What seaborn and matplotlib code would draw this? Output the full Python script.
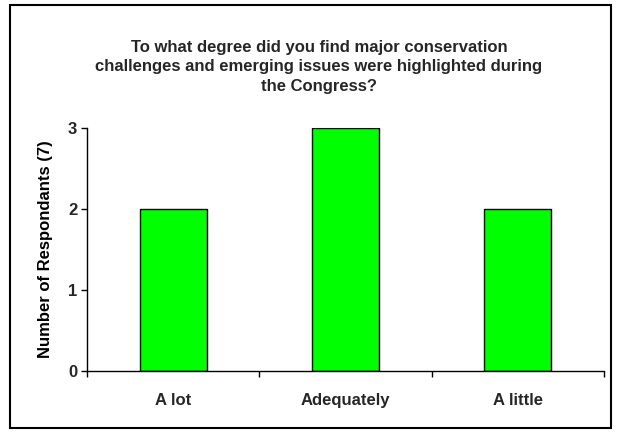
import matplotlib
matplotlib.use("Agg")
import matplotlib.pyplot as plt
import seaborn as sns
import pandas as pd
from matplotlib.patches import Rectangle

# data
categories = ["A lot", "Adequately", "A little"]
respondents = [2, 3, 2]
title = ("To what degree did you find major conservation\n"
         "challenges and emerging issues were highlighted during\n"
         "the Congress?")

df = pd.DataFrame({"answer": categories, "count": respondents})

sns.set_theme(style="white")
plt.rcParams["font.family"] = ["Liberation Sans", "DejaVu Sans"]
plt.rcParams["font.weight"] = "bold"

fig = plt.figure(figsize=(6.18, 4.32), dpi=100)
ax = fig.add_axes([87 / 618, 1 - 371 / 432, (604 - 87) / 618, (371 - 128) / 432])

sns.barplot(data=df, x="answer", y="count", color="#00FF00", saturation=1,
            width=0.39, edgecolor="black", linewidth=1, ax=ax)

# layout
ax.set_xlim(-0.5, 2.5)
ax.set_ylim(0, 3)
ax.set_yticks([0, 1, 2, 3])
ax.set_xticks([-0.5, 0.5, 1.5, 2.5])
ax.set_xticklabels([])
ax.set_xticks([0, 1, 2], minor=True)
ax.set_xticklabels(categories, minor=True, fontsize=12, fontweight="bold")
ax.tick_params(axis="x", which="major", direction="out", length=4, width=1,
               color="black", bottom=True)
ax.tick_params(axis="x", which="minor", length=0, pad=16)
ax.tick_params(axis="y", direction="out", length=4, width=1, color="black",
               left=True, pad=3, labelsize=12)
for lbl in ax.get_yticklabels():
    lbl.set_fontweight("bold")
for s in ["top", "right"]:
    ax.spines[s].set_visible(False)
for s in ["left", "bottom"]:
    ax.spines[s].set_color("black")
    ax.spines[s].set_linewidth(1)
ax.set_xlabel("")
ax.set_ylabel("Number of Respondants (7)", fontsize=12, fontweight="bold",
              labelpad=10.5, color="black")

fig.text(319 / 618, 1 - 40 / 432, title, ha="center", va="top",
         fontsize=12, fontweight="bold", linespacing=1.36)

# outer border
fig.patches.append(Rectangle((10 / 618, 1 - 428 / 432), 601 / 618, 423 / 432,
                             transform=fig.transFigure, fill=False,
                             edgecolor="black", linewidth=1.5))

fig.savefig("out.png", dpi=100)
